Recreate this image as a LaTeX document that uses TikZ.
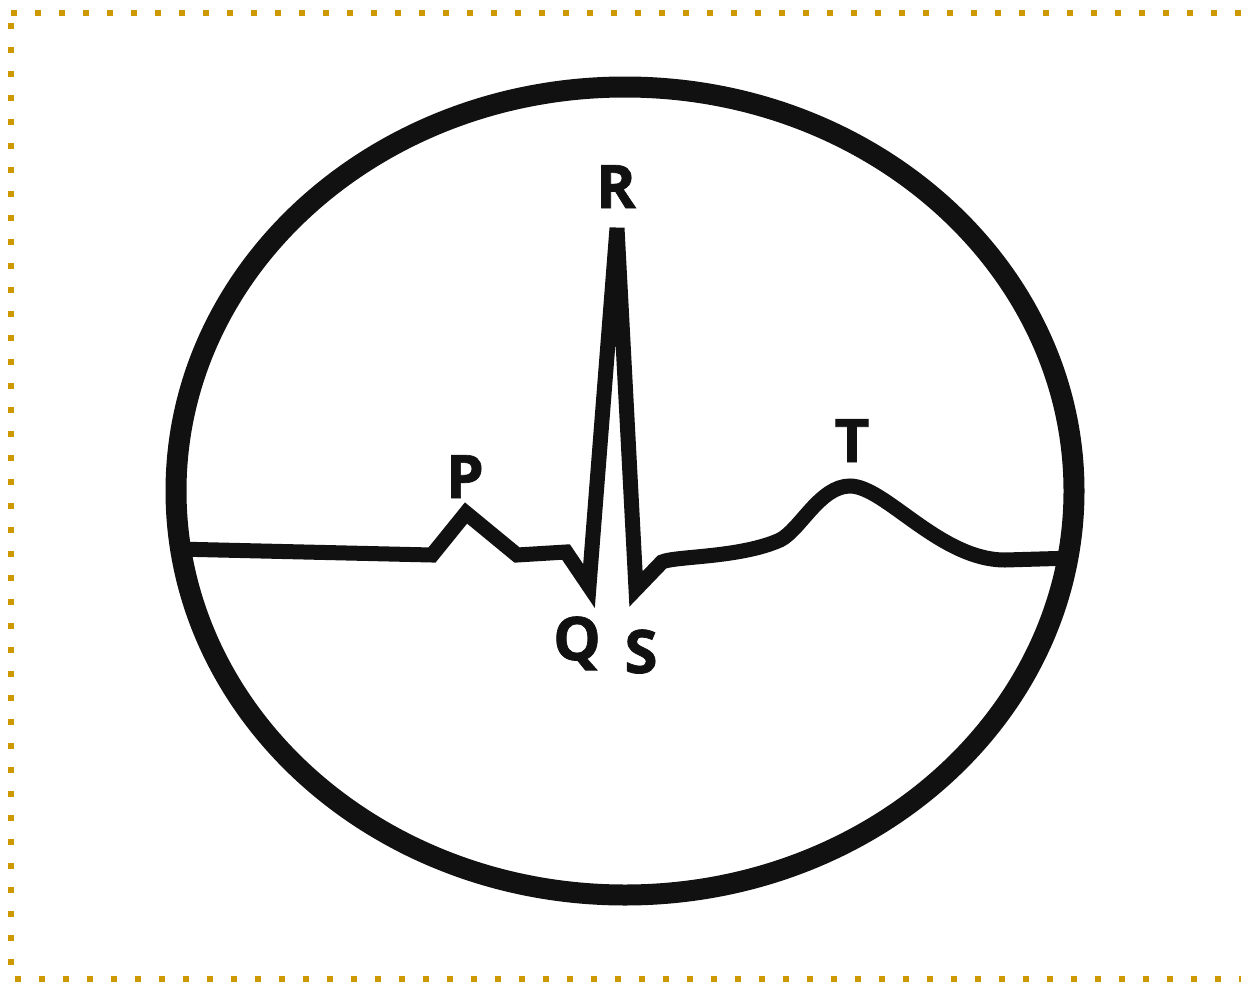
\documentclass[tikz,border=0pt]{standalone}
\usepackage{fontspec}
\setmainfont{Open Sans}[BoldFeatures={FakeBold=1.2}]
\usetikzlibrary{shapes.geometric}
\definecolor{gold}{RGB}{204,153,0}
\definecolor{ink}{RGB}{17,17,17}
\begin{document}
\begin{tikzpicture}[x=1pt,y=-1pt,
  border/.style={draw=gold,line width=6pt,dash pattern=on 6pt off 18pt},
  ecg/.style={draw=ink,line width=15pt,line join=miter,miter limit=10},
  frame/.style={draw=ink,line width=21pt},
  wave/.style={font=\fontsize{60}{60}\selectfont\bfseries,text=ink,inner sep=0pt,anchor=base}]
\useasboundingbox (0,0) rectangle (1241,982);
% dotted border
\coordinate (tl) at (11,13);
\coordinate (tr) at (1250,13);
\coordinate (lt) at (11,23);
\coordinate (lb) at (11,975);
\coordinate (bl) at (15,979);
\coordinate (br) at (1250,979);
\draw[border] (tl) -- (tr);
\draw[border] (lt) -- (lb);
\draw[border] (bl) -- (br);
% monitor ellipse
\node[frame,ellipse,minimum width=898pt,minimum height=808pt,inner sep=0pt] (screen) at (625,491) {};
% ECG trace
\draw[ecg] (176,549) -- (432,555) -- (466,513) -- (517,555) -- (566,552)
  -- (589,586) -- (617,228) -- (636,589) -- (662,562)
  .. controls (675,556) and (740,558) .. (780,540)
  .. controls (800,530) and (820,486) .. (850,486)
  .. controls (885,486) and (940,560) .. (1005,560)
  -- (1074,558);
% labels
\node[wave] (R) at (616,208) {R};
\node[wave] (P) at (465,498) {P};
\node[wave] (T) at (852,462) {T};
\node[wave] (Q) at (577,660) {Q};
\node[wave] (S) at (641,673) {S};
\end{tikzpicture}
\end{document}
